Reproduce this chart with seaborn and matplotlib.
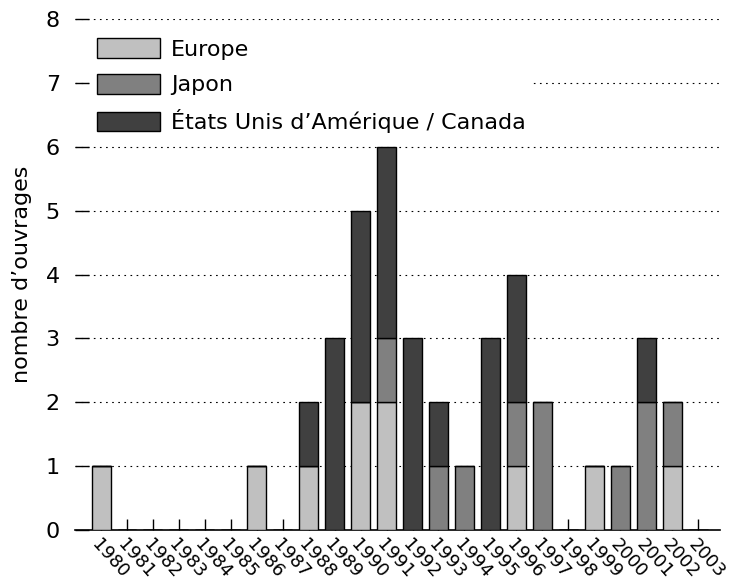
import pandas as pd
import seaborn as sns
import matplotlib.pyplot as plt
from matplotlib.patches import Patch

years = [str(y) for y in range(1980, 2004)]
europe = [1, 0, 0, 0, 0, 0, 1, 0, 1, 0, 2, 2, 0, 0, 0, 0, 1, 0, 0, 1, 0, 0, 1, 0]
japon = [0, 0, 0, 0, 0, 0, 0, 0, 0, 0, 0, 1, 0, 1, 1, 0, 1, 2, 0, 0, 1, 2, 1, 0]
usa = [0, 0, 0, 0, 0, 0, 0, 0, 1, 3, 3, 3, 3, 1, 0, 3, 2, 0, 0, 0, 0, 1, 0, 0]

labels = ["Europe", "Japon", "États Unis d’Amérique / Canada"]
colors = ["#c0c0c0", "#808080", "#404040"]

sns.set_theme(style="white")
plt.rcParams["font.family"] = ["DejaVu Sans"]
plt.rcParams["text.color"] = "black"
plt.rcParams["axes.labelcolor"] = "black"
plt.rcParams["xtick.color"] = "black"
plt.rcParams["ytick.color"] = "black"

df = pd.DataFrame({"annee": years, "europe": europe, "japon": japon, "usa": usa})
df["bas_usa"] = df["europe"] + df["japon"]

fig = plt.figure(figsize=(7.36, 5.88), dpi=100)
ax = fig.add_axes([0.102, 0.0986, 0.8764, 0.869])

bar_kw = dict(width=0.73, edgecolor="black", linewidth=1, saturation=1, ax=ax, zorder=3)
sns.barplot(data=df, x="annee", y="europe", color=colors[0], **bar_kw)
sns.barplot(data=df, x="annee", y="japon", bottom=df["europe"], color=colors[1], **bar_kw)
sns.barplot(data=df, x="annee", y="usa", bottom=df["bas_usa"], color=colors[2], **bar_kw)

ax.set_xlim(-1, 23.85)
ax.set_ylim(0, 8)
ax.set_yticks(range(0, 9))
ax.yaxis.grid(True, linestyle=(0, (1.5, 4)), color="black", linewidth=0.8, zorder=0)
ax.xaxis.grid(False)
for s in ["top", "right", "left"]:
    ax.spines[s].set_visible(False)
ax.spines["bottom"].set_color("black")
ax.spines["bottom"].set_linewidth(1.2)
ax.tick_params(axis="x", direction="in", length=8, width=1,
               bottom=True, labelsize=13, pad=4)
ax.tick_params(axis="y", direction="in", length=10, width=1,
               left=True, labelsize=16, pad=11)
plt.setp(ax.get_xticklabels(), rotation=-48, ha="left", rotation_mode="anchor")

ax.set_xlabel("")
ax.set_ylabel("nombre d’ouvrages", fontsize=16, labelpad=10)

handles = [Patch(facecolor=c, edgecolor="black", linewidth=1) for c in colors]
leg = ax.legend(handles, labels, loc="upper left", bbox_to_anchor=(0.023, 0.975),
                borderaxespad=0, fontsize=16, frameon=True, framealpha=1,
                edgecolor="white", handlelength=2.84, handleheight=1.0,
                labelspacing=0.62, handletextpad=0.5, borderpad=0.3, fancybox=False)
leg.set_zorder(5)

plt.savefig("out.png", dpi=100)
